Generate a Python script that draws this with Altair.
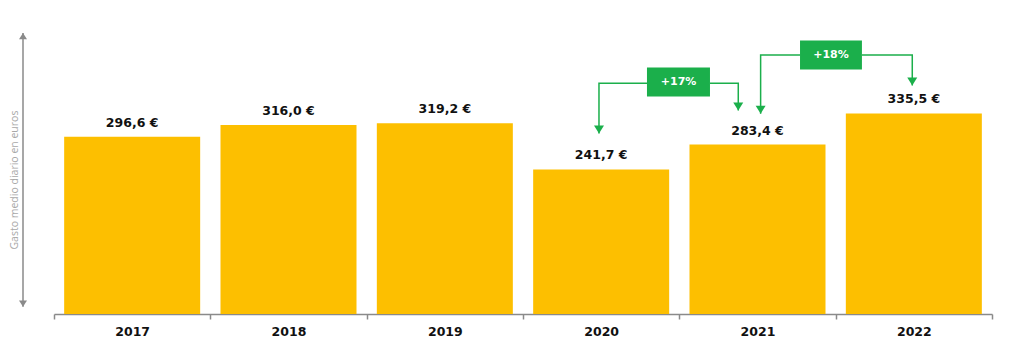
import altair as alt
import pandas as pd

# ---- data ----
years = ["2017", "2018", "2019", "2020", "2021", "2022"]
values = [296.6, 316.0, 319.2, 241.7, 283.4, 335.5]
value_labels = ["296,6 €", "316,0 €", "319,2 €", "241,7 €", "283,4 €", "335,5 €"]
y_title = "Gasto medio diario en euros"
y_title_pos = 224

# change annotations (x in category units 0..6, y in euros)
change_labels = ["+17%", "+18%"]
box_x1 = [3.793, 4.772]
box_x2 = [4.196, 5.168]
box_y1 = [363.7, 408.9]
box_y2 = [412.2, 457.4]
box_cx = [3.995, 4.970]
box_cy = [388.0, 433.0]

path_ids = ["a", "a", "a", "b", "b", "b", "c", "c", "c", "d", "d", "d"]
path_seq = [0, 1, 2, 0, 1, 2, 0, 1, 2, 0, 1, 2]
path_x = [3.486, 3.486, 3.793, 4.196, 4.377, 4.377, 4.520, 4.520, 4.772, 5.168, 5.490, 5.490]
path_y = [301.8, 386.0, 386.0, 386.0, 386.0, 340.3, 335.0, 433.0, 433.0, 433.0, 433.0, 382.0]

tip_x = [3.486, 4.377, 4.520, 5.490]
tip_y = [301.8, 340.3, 335.0, 382.0]

axis_arrow_top = 470
axis_arrow_bottom = 12

BAR = "#FDBF00"
GREEN = "#1BAF4B"
GREY = "#8a8a8a"
Y_MAX = 490

bars_df = pd.DataFrame({"year": years, "value": values, "label": value_labels})
box_df = pd.DataFrame({"label": change_labels, "x1": box_x1, "x2": box_x2,
                       "y1": box_y1, "y2": box_y2, "cx": box_cx, "cy": box_cy})
path_df = pd.DataFrame({"pid": path_ids, "seq": path_seq, "x": path_x, "y": path_y})
tip_df = pd.DataFrame({"x": tip_x, "y": tip_y})

yscale = alt.Scale(domain=[0, Y_MAX], nice=False, zero=True)
xband = alt.Scale(domain=years, paddingInner=0, paddingOuter=0)
xlin = alt.Scale(domain=[0, 6], nice=False, zero=False)

bars = alt.Chart(bars_df).mark_bar(color=BAR, width={"band": 0.87}).encode(
    x=alt.X("year:N", scale=xband, title=None, sort=years,
            axis=alt.Axis(labelAngle=0, labelFont="DejaVu Sans", labelFontWeight="bold",
                          labelFontSize=12.5, labelColor="#111", labelPadding=6,
                          tickBand="extent", tickSize=5, tickColor=GREY, tickWidth=1.5,
                          domainColor=GREY, domainWidth=1.5, grid=False)),
    y=alt.Y("value:Q", scale=yscale, axis=None),
)

texts = alt.Chart(bars_df).mark_text(font="DejaVu Sans", fontWeight="bold", fontSize=12.5,
                                     color="#111", baseline="middle", dy=-14).encode(
    x=alt.X("year:N", scale=xband, axis=None, sort=years),
    y=alt.Y("value:Q", scale=yscale, axis=None),
    text="label:N",
)

lines = alt.Chart(path_df).mark_line(color=GREEN, strokeWidth=1.5).encode(
    x=alt.X("x:Q", scale=xlin, axis=None),
    y=alt.Y("y:Q", scale=yscale, axis=None),
    detail="pid:N",
    order="seq:Q",
)

tips = alt.Chart(tip_df).mark_point(shape="M-1,-1.6L1,-1.6L0,0Z", size=100, filled=True,
                                    color=GREEN, opacity=1, strokeWidth=0).encode(
    x=alt.X("x:Q", scale=xlin, axis=None),
    y=alt.Y("y:Q", scale=yscale, axis=None),
)

boxes = alt.Chart(box_df).mark_rect(color=GREEN).encode(
    x=alt.X("x1:Q", scale=xlin, axis=None), x2="x2:Q",
    y=alt.Y("y1:Q", scale=yscale, axis=None), y2="y2:Q",
)

box_text = alt.Chart(box_df).mark_text(font="DejaVu Sans", fontWeight="bold", fontSize=11,
                                       color="white", baseline="middle").encode(
    x=alt.X("cx:Q", scale=xlin, axis=None),
    y=alt.Y("cy:Q", scale=yscale, axis=None),
    text="label:N",
)

arrow_df = pd.DataFrame({"top": [axis_arrow_top], "bottom": [axis_arrow_bottom], "title": [y_title],
                         "mid": [y_title_pos]})

y_rule = alt.Chart(arrow_df).mark_rule(color=GREY, strokeWidth=1.5).encode(
    x=alt.value(-31),
    y=alt.Y("top:Q", scale=yscale, axis=None), y2="bottom:Q",
)
y_up = alt.Chart(arrow_df).mark_point(shape="M-1,1.6L1,1.6L0,0Z", size=64, filled=True,
                                      color=GREY, opacity=1, strokeWidth=0).encode(
    x=alt.value(-31), y=alt.Y("top:Q", scale=yscale, axis=None))
y_down = alt.Chart(arrow_df).mark_point(shape="M-1,-1.6L1,-1.6L0,0Z", size=64, filled=True,
                                        color=GREY, opacity=1, strokeWidth=0).encode(
    x=alt.value(-31), y=alt.Y("bottom:Q", scale=yscale, axis=None))
y_label = alt.Chart(arrow_df).mark_text(font="Open Sans", fontSize=10.5, color="#a8a8a8",
                                        angle=270, baseline="middle", align="center").encode(
    x=alt.value(-39), y=alt.Y("mid:Q", scale=yscale, axis=None), text="title:N")

chart = alt.layer(bars, texts, lines, tips, boxes, box_text, y_rule, y_up, y_down, y_label).resolve_scale(
    x="independent"
).properties(
    width=938, height=293,
    autosize=alt.AutoSizeParams(type="none"),
    padding={"left": 46, "top": 13, "right": 24, "bottom": 42},
).configure_view(stroke=None)

chart.save("out.html", embed_options={"renderer": "svg", "actions": False})
